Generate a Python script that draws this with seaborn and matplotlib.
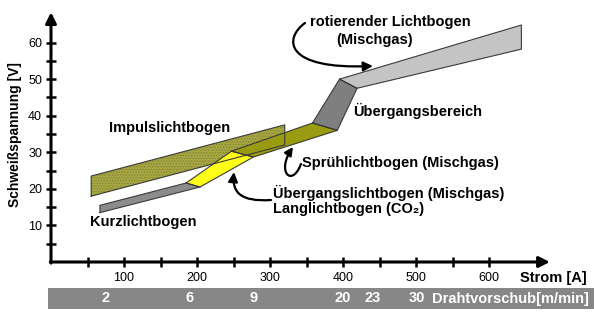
import numpy as np
import pandas as pd
import matplotlib
matplotlib.use("Agg")
import matplotlib.pyplot as plt
import seaborn as sns
from matplotlib.patches import FancyArrowPatch, Rectangle
from matplotlib.path import Path

# ---------------- data ----------------
# polygon corner values (current [A], voltage [V]) of each arc region
impuls_x = [55, 55, 320, 320]
impuls_y = [18, 23.5, 37.5, 32]
kurz_x = [67, 67, 185, 204]
kurz_y = [13.5, 15.5, 21.6, 20.5]
ueberg_x = [185, 204, 277, 247]
ueberg_y = [21.6, 20.5, 28.7, 30.3]
spruh_x = [247, 277, 392, 358]
spruh_y = [30.3, 28.7, 36, 38]
bereich_x = [358, 392, 419, 395]
bereich_y = [38, 36, 47.5, 50]
rot_x = [395, 419, 644, 644]
rot_y = [50, 47.5, 58.2, 64.8]

x_ticks = [50, 100, 150, 200, 250, 300, 350, 400, 450, 500, 550, 600]
x_labels = ["", "100", "", "200", "", "300", "", "400", "", "500", "", "600"]
y_ticks = [5, 10, 15, 20, 25, 30, 35, 40, 45, 50, 55, 60]
y_labels = ["", "10", "", "20", "", "30", "", "40", "", "50", "", "60"]

feed_current = [75, 190, 278, 400, 441, 501]
feed_labels = ["2", "6", "9", "20", "23", "30"]

# ---------------- style ----------------
sns.set_theme(style="white")
plt.rcParams["font.family"] = ["Liberation Sans", "DejaVu Sans"]

W, H = 594, 314
fig = plt.figure(figsize=(W / 100, H / 100), dpi=100)
fig.patch.set_facecolor("white")

# main axes: x=0 at px 51, y=0 at px 262
ax_l, ax_r, ax_b, ax_t = 51, 555, 262, 6
ax = fig.add_axes([ax_l / W, (H - ax_b) / H, (ax_r - ax_l) / W, (ax_b - ax_t) / H])
XMAX, YMAX = 690, 70
ax.set_xlim(0, XMAX)
ax.set_ylim(0, YMAX)
ax.set_facecolor("white")
for s in ax.spines.values():
    s.set_visible(False)

edge = "#3a3a3a"

def poly(xs, ys, fc, z, hatch=None, hatch_col=None, alpha=1.0):
    if hatch:
        ax.fill(xs, ys, facecolor=fc, edgecolor=hatch_col, hatch=hatch, lw=0, zorder=z, alpha=alpha)
    else:
        ax.fill(xs, ys, facecolor=fc, edgecolor="none", zorder=z, alpha=alpha)

def outline(xs, ys, z, color=edge, lw=0.8):
    df = pd.DataFrame({"x": list(xs) + [xs[0]], "y": list(ys) + [ys[0]]})
    sns.lineplot(data=df, x="x", y="y", sort=False, estimator=None, color=color,
                 lw=lw, ax=ax, zorder=z)

plt.rcParams["hatch.linewidth"] = 0.6
poly(impuls_x, impuls_y, "#a6a644", 2, hatch="......", hatch_col="#83832c")
poly(kurz_x, kurz_y, "#8c8c8c", 3)
outline(kurz_x, kurz_y, 3.1)
poly(ueberg_x, ueberg_y, "#ffff1a", 3)
outline(ueberg_x, ueberg_y, 3.1)
poly(spruh_x, spruh_y, "#9b9b12", 3)
outline(spruh_x, spruh_y, 3.1)
poly(bereich_x, bereich_y, "#7f7f7f", 3)
outline(bereich_x, bereich_y, 3.1)
poly(rot_x, rot_y, "#c4c4c4", 3)
outline(rot_x, rot_y, 3.1)
outline(impuls_x, impuls_y, 4)
ax.set_xlabel("")
ax.set_ylabel("")

# axes arrows
ax.annotate("", xy=(683, 0), xytext=(-1, 0),
            arrowprops=dict(arrowstyle="-|>", lw=2.2, color="black", mutation_scale=16,
                            shrinkA=0, shrinkB=0), annotation_clip=False, zorder=6)
ax.annotate("", xy=(0, 68.3), xytext=(0, -0.3),
            arrowprops=dict(arrowstyle="-|>", lw=2.2, color="black", mutation_scale=16,
                            shrinkA=0, shrinkB=0), annotation_clip=False, zorder=6)

ax.set_xticks(x_ticks)
ax.set_xticklabels(x_labels)
ax.set_yticks(y_ticks)
ax.set_yticklabels(y_labels)
ax.tick_params(axis="both", direction="inout", length=7, width=1.8, color="black",
               labelsize=9, labelcolor="black", bottom=True, left=True)
ax.tick_params(axis="x", pad=4)
ax.tick_params(axis="y", pad=3)

# curved arrows
def px2d(px, py):
    return ((px - ax_l) * XMAX / (ax_r - ax_l), (ax_b - py) * YMAX / (ax_b - ax_t))

def curved(points_px, ms=14):
    verts = [px2d(*p) for p in points_px]
    path = Path(verts, [Path.MOVETO, Path.CURVE4, Path.CURVE4, Path.CURVE4])
    a = FancyArrowPatch(path=path, arrowstyle="-|>", mutation_scale=ms, lw=1.6,
                        color="black", zorder=7, transform=ax.transData)
    a.set_clip_on(False)
    ax.add_patch(a)

curved([(305, 23), (284, 38), (283, 70), (373, 66)])
curved([(301, 164), (292, 188), (276, 172), (293, 147)], ms=12)
curved([(271, 200), (240, 202), (232, 192), (234, 172)])

# texts
FS = 10.5
tk = dict(fontsize=FS, fontweight="bold", color="black", zorder=8)
def txt(px, py, s, ha="left", **kw):
    x, y = px2d(px, py)
    d = dict(tk)
    d.update(kw)
    ax.text(x, y, s, ha=ha, va="center", clip_on=False, **d)

txt(310, 22, "rotierender Lichtbogen")
txt(375, 40, "(Mischgas)", ha="center")
txt(353, 111, "Übergangsbereich")
txt(109, 128, "Impulslichtbogen")
txt(302, 163, "Sprühlichtbogen (Mischgas)")
txt(273, 193, "Übergangslichtbogen (Mischgas)")
txt(273, 209, "Langlichtbogen (CO\u2082)")
txt(90, 222, "Kurzlichtbogen")
txt(520, 278, "Strom [A]")

fig.text(15 / W, 1 - 135 / H, "Schweißspannung [V]", rotation=90, ha="center", va="center",
         fontsize=10, fontweight="bold", color="black")

# wire feed bar
bx0, bx1, by0, by1 = 48, 594, 288, 309
bax = fig.add_axes([bx0 / W, (H - by1) / H, (bx1 - bx0) / W, (by1 - by0) / H])
scale = XMAX / (ax_r - ax_l)
bax.set_xlim((bx0 - ax_l) * scale, (bx1 - ax_l) * scale)
bax.set_ylim(0, 1)
bax.axis("off")
bax.add_patch(Rectangle((0, 0), 1, 1, transform=bax.transAxes, color="#878787", zorder=0))
for xc, lab in zip(feed_current, feed_labels):
    bax.text(xc, 0.5, lab, ha="center", va="center", color="white", fontsize=FS,
             fontweight="bold")
bax.text((432 - ax_l) * scale, 0.5, "Drahtvorschub[m/min]", ha="left", va="center",
         color="white", fontsize=FS, fontweight="bold")

fig.savefig("out.png", dpi=100)
